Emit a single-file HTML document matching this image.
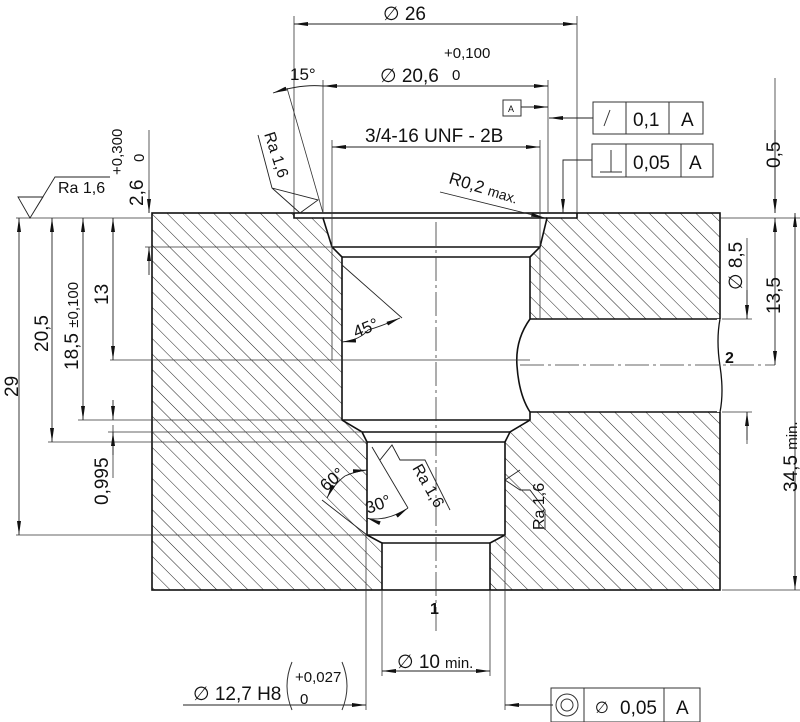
<!DOCTYPE html>
<html><head><meta charset="utf-8"><style>
html,body{margin:0;padding:0;background:#fff}
svg{display:block}
text{font-family:"Liberation Sans","DejaVu Sans",sans-serif;fill:#111}
</style></head><body>
<svg width="800" height="722" viewBox="0 0 800 722" xmlns="http://www.w3.org/2000/svg">
<defs>
<pattern id="h" width="11" height="20" patternUnits="userSpaceOnUse" patternTransform="rotate(-45)">
<line x1="0" y1="0" x2="0" y2="20" stroke="#222" stroke-width="1"/>
</pattern>
<marker id="a" viewBox="0 0 14 6" refX="14" refY="3" markerWidth="14" markerHeight="6" markerUnits="userSpaceOnUse" orient="auto-start-reverse">
<path d="M0,1 L14,3 L0,5 z" fill="#111"/>
</marker>
</defs>

<rect x="152" y="213" width="568" height="377" fill="url(#h)"/>
<path d="M294,213 L577,213 L577,218 L547,218 L540,247 L530,257 L530,319 L720,319 L720,412 L530,412 L530,420 L510,432 L505,442 L505,535 L490,543 L490,590 L382,590 L382,543 L367,535 L367,442 L362,432 L342,420 L342,257 L332,247 L323,218 L294,218 Z" fill="#fff"/>
<g fill="none" stroke="#111" stroke-width="1.6">
<path d="M294,213 L294,218 L323,218 L332,247 L342,257 L342,420 L362,432 L367,442 L367,535 L382,543 L382,590"/>
<path d="M577,213 L577,218 L547,218 L540,247 L530,257 L530,319 Q515,340 517,366 Q519,395 530,412 L530,420 L510,432 L505,442 L505,535 L490,543 L490,590"/>
<path d="M323,218 L547,218"/>
<path d="M530,319 L720,319 M530,412 L720,412"/>
<path d="M332,247 L540,247 M342,257 L530,257 M342,420 L530,420 M362,432 L510,432 M367,442 L505,442 M367,535 L505,535 M382,543 L490,543"/>
</g>
<rect x="152" y="213" width="568" height="377" fill="none" stroke="#111" stroke-width="1.6"/>
<rect x="717" y="319" width="6" height="93" fill="#fff"/>
<path d="M720,319 Q716,340 720,366 Q724,392 720,412" fill="none" stroke="#111" stroke-width="1.3"/>

<g stroke="#333" stroke-width="0.8" fill="none" stroke-dasharray="24,4,3,4">
<line x1="436" y1="222" x2="436" y2="632"/>
<line x1="520" y1="365" x2="775" y2="365"/>
</g>

<g stroke="#333" stroke-width="0.8" fill="none">
<line x1="16" y1="218" x2="152" y2="218"/>
<line x1="720" y1="218" x2="800" y2="218"/>
<line x1="145" y1="247" x2="332" y2="247"/>
<line x1="110" y1="360" x2="530" y2="360"/>
<line x1="78" y1="420" x2="342" y2="420"/>
<line x1="108" y1="432" x2="362" y2="432"/>
<line x1="48" y1="442" x2="367" y2="442"/>
<line x1="16" y1="535" x2="367" y2="535"/>
<line x1="722" y1="319" x2="752" y2="319"/>
<line x1="722" y1="412" x2="752" y2="412"/>
<line x1="722" y1="590" x2="800" y2="590"/>
<line x1="294" y1="16" x2="294" y2="213"/>
<line x1="577" y1="16" x2="577" y2="213"/>
<line x1="323" y1="80" x2="323" y2="213"/>
<line x1="548" y1="80" x2="548" y2="213"/>
<line x1="332" y1="140" x2="332" y2="360"/>
<line x1="540" y1="140" x2="540" y2="318"/>
<line x1="382" y1="590" x2="382" y2="676"/>
<line x1="490" y1="590" x2="490" y2="676"/>
<line x1="366" y1="535" x2="366" y2="710"/>
<line x1="505" y1="535" x2="505" y2="710"/>
<line x1="149" y1="130" x2="149" y2="213"/>
<line x1="113" y1="425" x2="113" y2="478"/>
<line x1="775" y1="78" x2="775" y2="213"/>
<line x1="747" y1="238" x2="747" y2="319"/>
<line x1="747" y1="412" x2="747" y2="444"/>
<line x1="287" y1="88" x2="323" y2="213"/>
</g>

<g stroke="#222" stroke-width="0.9" fill="none" marker-start="url(#a)" marker-end="url(#a)">
<line x1="294" y1="24" x2="577" y2="24"/>
<line x1="323" y1="86" x2="548" y2="86"/>
<line x1="332" y1="147" x2="540" y2="147"/>
<line x1="19" y1="218" x2="19" y2="535"/>
<line x1="52" y1="218" x2="52" y2="442"/>
<line x1="83" y1="218" x2="83" y2="420"/>
<line x1="113" y1="218" x2="113" y2="360"/>
<line x1="775" y1="218" x2="775" y2="365"/>
<line x1="795" y1="213" x2="795" y2="590"/>
<line x1="382" y1="671" x2="490" y2="671"/>
</g>
<g stroke="#222" stroke-width="0.9" fill="none" marker-end="url(#a)">
<line x1="149" y1="190" x2="149" y2="213"/>
<line x1="149" y1="275" x2="149" y2="247"/>
<line x1="113" y1="400" x2="113" y2="420"/>
<line x1="113" y1="455" x2="113" y2="432"/>
<line x1="775" y1="130" x2="775" y2="213"/>
<line x1="747" y1="290" x2="747" y2="319"/>
<line x1="747" y1="440" x2="747" y2="412"/>
<line x1="183" y1="705" x2="366" y2="705"/>
<line x1="553" y1="705" x2="505" y2="705"/>
<line x1="593" y1="118" x2="549" y2="118"/>
<line x1="521" y1="107" x2="548" y2="107"/>
<path d="M592,160 L563,160 L563,213"/>
<path d="M440,192 L545,218"/>
<path d="M323,86 Q300,84 273,93"/>
<path d="M368,330 Q360,340 342,342"/>
<path d="M368,330 Q382,326 400,318"/>
<path d="M345,476 Q356,471 367,470"/>
<path d="M345,476 Q334,484 327,498"/>
<path d="M385,518 Q372,520 367,518"/>
<path d="M385,518 Q398,515 408,508"/>
</g>
<g stroke="#222" stroke-width="0.9" fill="none">
<line x1="342" y1="265" x2="402" y2="318"/>
<line x1="322" y1="500" x2="367" y2="535"/>
<line x1="372" y1="447" x2="408" y2="508"/>
<path d="M18,197 L43,197 L30,218 Z M30,218 L55,177 L110,177"/>
<path d="M258,135 L272,188 L318,200 L300,213 M272,188 L300,213"/>
<path d="M380,460 L392,445 L400,460 L425,460 L450,510"/>
<path d="M520,470 L505,480 L520,490 L530,490 L545,510 L545,530"/>
</g>

<g fill="none" stroke="#333" stroke-width="1">
<rect x="503" y="100" width="18" height="16"/>
<rect x="593" y="102" width="110" height="32"/>
<line x1="626" y1="102" x2="626" y2="134"/><line x1="669" y1="102" x2="669" y2="134"/>
<rect x="592" y="144" width="121" height="33"/>
<line x1="626" y1="144" x2="626" y2="177"/><line x1="681" y1="144" x2="681" y2="177"/>
<rect x="551" y="688" width="149" height="34"/>
<line x1="584" y1="688" x2="584" y2="722"/><line x1="664" y1="688" x2="664" y2="722"/>
<circle cx="567" cy="705" r="11"/><circle cx="567" cy="705" r="6"/>
<line x1="604" y1="126" x2="610" y2="110"/>
<line x1="600" y1="172" x2="622" y2="172"/><line x1="611" y1="150" x2="611" y2="172"/>
<path d="M292,662 Q282,686 292,710 M342,662 Q352,686 342,710"/>
</g>

<g font-size="19">
<text x="383" y="20">∅ 26</text>
<text x="380" y="82">∅ 20,6</text>
<text x="365" y="142">3/4-16 UNF - 2B</text>
<text x="290" y="80" font-size="17">15°</text>
<text x="633" y="126">0,1</text><text x="681" y="126">A</text>
<text x="633" y="169">0,05</text><text x="689" y="169">A</text>
<text x="595" y="713" font-size="16">∅</text><text x="620" y="714">0,05</text><text x="676" y="714">A</text>
<text x="193" y="700">∅ 12,7 H8</text>
<text x="397" y="668">∅ 10</text>
<text x="430" y="614" font-weight="bold" font-size="16">1</text>
<text x="725" y="363" font-weight="bold" font-size="16">2</text>
</g>
<g font-size="15">
<text x="444" y="58">+0,100</text>
<text x="452" y="80">0</text>
<text x="445" y="668">min.</text>
<text x="295" y="682">+0,027</text>
<text x="300" y="704">0</text>
<text x="58" y="193" font-size="16">Ra  1,6</text>
<text x="508" y="112" font-size="9">A</text>
</g>
<text transform="translate(448,183) rotate(17)" font-size="17">R0,2 <tspan font-size="14">max.</tspan></text>
<text transform="translate(264,134) rotate(72)" font-size="16">Ra  1,6</text>
<text transform="translate(412,468) rotate(60)" font-size="16">Ra  1,6</text>
<text transform="translate(544,530) rotate(-90)" font-size="16">Ra  1,6</text>
<text transform="translate(356,338) rotate(-22)" font-size="17">45°</text>
<text transform="translate(326,492) rotate(-40)" font-size="17">60°</text>
<text transform="translate(368,514) rotate(-20)" font-size="17">30°</text>
<g font-size="19">
<text transform="translate(18,397) rotate(-90)">29</text>
<text transform="translate(48,352) rotate(-90)">20,5</text>
<text transform="translate(78,370) rotate(-90)">18,5 <tspan font-size="15">±0,100</tspan></text>
<text transform="translate(108,305) rotate(-90)">13</text>
<text transform="translate(108,505) rotate(-90)">0,995</text>
<text transform="translate(143,206) rotate(-90)">2,6</text>
<text transform="translate(780,168) rotate(-90)">0,5</text>
<text transform="translate(780,314) rotate(-90)">13,5</text>
<text transform="translate(742,290) rotate(-90)">∅ 8,5</text>
<text transform="translate(797,492) rotate(-90)">34,5 <tspan font-size="15">min.</tspan></text>
</g>
<g font-size="15">
<text transform="translate(122,175) rotate(-90)">+0,300</text>
<text transform="translate(144,162) rotate(-90)">0</text>
</g>
</svg>
</body></html>
